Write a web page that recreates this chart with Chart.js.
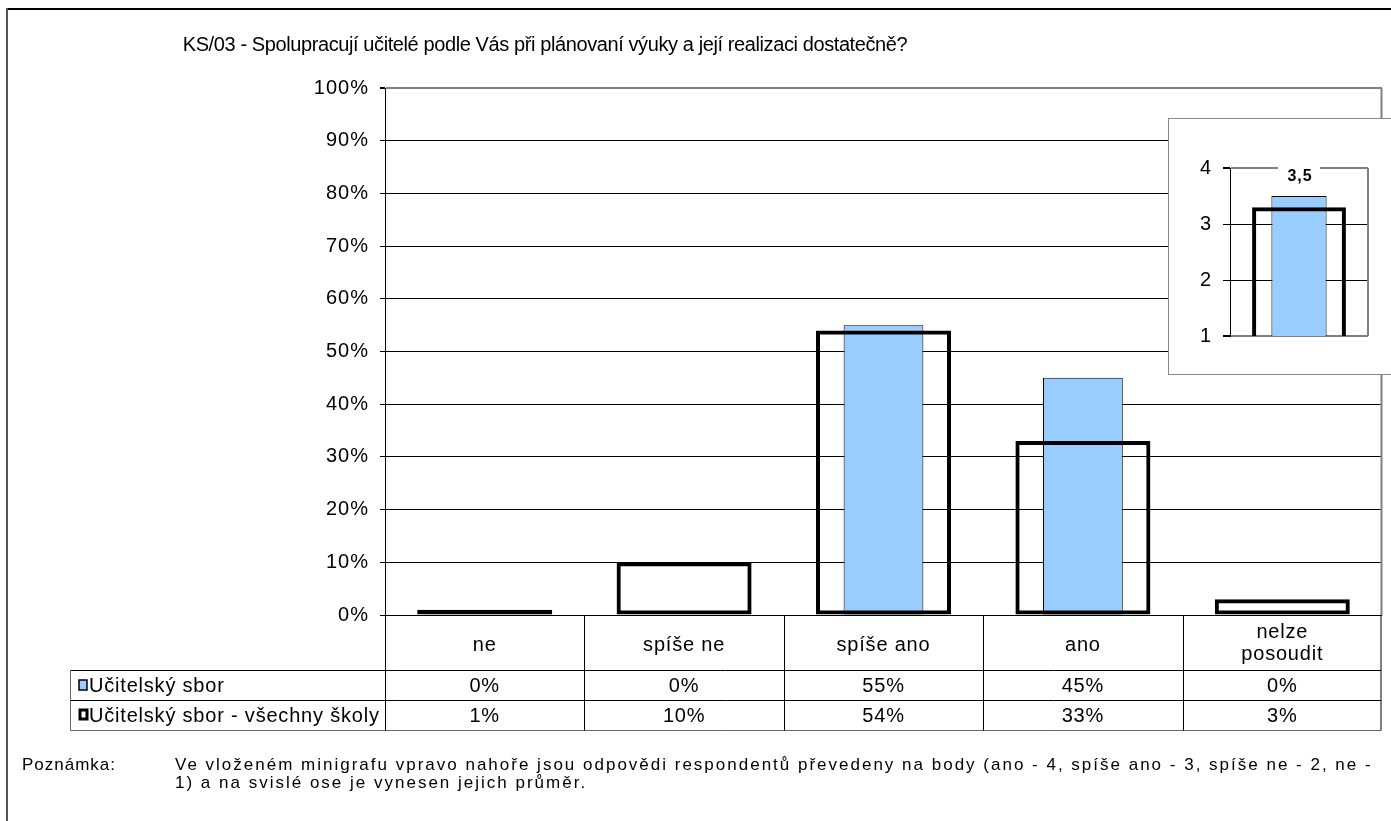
<!DOCTYPE html>
<html>
<head>
<meta charset="utf-8">
<script src="https://cdn.jsdelivr.net/npm/chart.js@4/dist/chart.umd.min.js"></script>
<style>
  body { margin: 0; background: #fff; overflow: hidden; }
  #main { position: absolute; left: 0; top: 0; }
  #miniBox { position: absolute; left: 1168px; top: 118px; width: 240px; height: 255px;
             border: 1px solid #888; background: #fff; }
  #mini { position: absolute; left: 0; top: 0; }
</style>
</head>
<body>
<canvas id="main" width="1391" height="821"></canvas>
<div id="miniBox"><canvas id="mini" width="222" height="255"></canvas></div>
<script>
const titleText = 'KS/03 - Spolupracují učitelé podle Vás při plánovaní výuky a její realizaci dostatečně?';
const categories = ['ne', 'spíše ne', 'spíše ano', 'ano', ['nelze', 'posoudit']];
const seriesNames = ['Učitelský sbor', 'Učitelský sbor - všechny školy'];
const schoolValues = [0, 0, 55, 45, 0];
const allSchoolsValues = [1, 10, 54, 33, 3];
const yTickStep = 10;

// minigraf: average points (ano 4 ... ne 1)
const miniSchool = [3.5];
const miniAllSchools = [3.3];
const miniLabel = '3,5';
const miniTicks = [1, 2, 3, 4];

const noteLabel = 'Poznámka:';
const noteLines = [
  'Ve vloženém minigrafu vpravo nahoře jsou odpovědi respondentů převedeny na body (ano - 4, spíše ano - 3, spíše ne - 2, ne -',
  '1) a na svislé ose je vynesen jejich průměr.'
];

const FONT = '"Liberation Sans", Arial, sans-serif';
const BLUE = '#99CCFF';

function line(ctx, x1, y1, x2, y2, color, w) {
  ctx.save();
  ctx.strokeStyle = color;
  ctx.lineWidth = w || 1;
  ctx.beginPath();
  ctx.moveTo(x1, y1);
  ctx.lineTo(x2, y2);
  ctx.stroke();
  ctx.restore();
}

// the original export draws text a little wider than the font
const spacing = px => ({
  id: 'spacing',
  beforeDraw(chart) { chart.ctx.letterSpacing = px + 'px'; }
});

const mainDecor = {
  id: 'mainDecor',
  afterDraw(chart) {
    const ctx = chart.ctx;
    const a = chart.chartArea;
    const n = categories.length;
    const cw = (a.right - a.left) / n;

    // outer frame
    line(ctx, 7, 9, 1391, 9, '#000', 2);
    line(ctx, 7, 8, 7, 821, '#555', 2);

    // plot right border
    line(ctx, a.right - 0.5, a.top, a.right - 0.5, a.bottom, '#808080', 2);

    // title
    ctx.save();
    ctx.letterSpacing = '-0.4px';
    ctx.fillStyle = '#000';
    ctx.font = '20px ' + FONT;
    ctx.textAlign = 'center';
    ctx.textBaseline = 'middle';
    ctx.fillText(titleText, 545, 45);
    ctx.restore();

    // data table
    const r0 = a.bottom, r1 = 670.5, r2 = 700.5, r3 = 730.5, tl = 70.5;
    const tr = a.right - 1;
    line(ctx, tl, r1, tr, r1, '#000');
    line(ctx, tl, r2, tr, r2, '#000');
    line(ctx, tl, r3, tr, r3, '#666');
    line(ctx, tl, r1, tl, r3, '#666');
    for (let i = 0; i <= n; i++) {
      const x = Math.round(a.left + i * cw) + 0.5;
      line(ctx, i === n ? tr : x, r0, i === n ? tr : x, r3, '#000');
    }

    ctx.save();
    ctx.letterSpacing = '0.8px';
    ctx.fillStyle = '#000';
    ctx.font = '20px ' + FONT;
    ctx.textAlign = 'center';
    ctx.textBaseline = 'middle';
    categories.forEach((c, i) => {
      const cx = a.left + (i + 0.5) * cw;
      if (Array.isArray(c)) {
        ctx.fillText(c[0], cx, 632);
        ctx.fillText(c[1], cx, 654);
      } else {
        ctx.fillText(c, cx, 645);
      }
      ctx.fillText(schoolValues[i] + '%', cx, 686);
      ctx.fillText(allSchoolsValues[i] + '%', cx, 716);
    });

    // legend keys in table
    ctx.textAlign = 'left';
    ctx.fillText(seriesNames[0], 89, 686);
    ctx.fillText(seriesNames[1], 89, 716);
    ctx.fillStyle = BLUE;
    ctx.fillRect(79, 680, 8, 10);
    ctx.strokeStyle = '#000';
    ctx.lineWidth = 1.5;
    ctx.strokeRect(79, 680, 8, 10);
    ctx.lineWidth = 3;
    ctx.strokeRect(80, 710, 7, 9);

    // note
    ctx.fillStyle = '#000';
    ctx.font = '17px ' + FONT;
    ctx.letterSpacing = '1px';
    ctx.fillText(noteLabel, 22, 765);
    ctx.letterSpacing = '2px';
    ctx.fillText(noteLines[0], 175, 765);
    ctx.fillText(noteLines[1], 175, 783);
    ctx.restore();
  }
};

new Chart(document.getElementById('main'), {
  type: 'bar',
  data: {
    labels: categories,
    datasets: [
      {
        label: seriesNames[1],
        data: allSchoolsValues,
        backgroundColor: 'rgba(0,0,0,0)',
        borderColor: '#000',
        borderWidth: 4,
        borderSkipped: false,
        grouped: false,
        categoryPercentage: 1,
        barPercentage: 0.677,
        order: 0
      },
      {
        label: seriesNames[0],
        data: schoolValues,
        backgroundColor: BLUE,
        borderColor: '#000',
        borderWidth: 1,
        borderSkipped: false,
        grouped: false,
        categoryPercentage: 1,
        barPercentage: 0.40,
        order: 1
      }
    ]
  },
  options: {
    responsive: false,
    animation: false,
    devicePixelRatio: 1,
    layout: { padding: { top: 88, right: 9, bottom: 206, left: 0 } },
    plugins: { legend: { display: false }, tooltip: { enabled: false } },
    scales: {
      x: { display: false },
      y: {
        min: 0,
        max: 100,
        afterFit: s => { s.width = 385; },
        ticks: {
          stepSize: yTickStep,
          padding: 11,
          color: '#000',
          font: { family: FONT, size: 20 },
          callback: v => v + '%'
        },
        grid: {
          color: c => (c.tick && c.tick.value === 100 ? '#808080' : '#000'),
          lineWidth: c => (c.tick && c.tick.value === 100 ? 2 : 1),
          tickColor: '#000',
          tickLength: 5
        },
        border: { color: '#000', width: 1 }
      }
    }
  },
  plugins: [spacing(1), mainDecor]
});

const miniDecor = {
  id: 'miniDecor',
  afterDraw(chart) {
    const ctx = chart.ctx;
    const a = chart.chartArea;
    line(ctx, a.right, a.top, a.right, a.bottom, '#808080', 2);
    const bar = chart.getDatasetMeta(1).data[0];
    ctx.save();
    ctx.fillStyle = '#fff';
    ctx.fillRect(bar.x - 21, a.top - 4, 42, 10);
    ctx.fillStyle = '#000';
    ctx.font = 'bold 16px ' + FONT;
    ctx.letterSpacing = '1px';
    ctx.textAlign = 'center';
    ctx.textBaseline = 'middle';
    ctx.fillText(miniLabel, bar.x + 1, a.top + 9);
    ctx.restore();
  }
};

new Chart(document.getElementById('mini'), {
  type: 'bar',
  data: {
    labels: [''],
    datasets: [
      {
        label: seriesNames[1],
        data: miniAllSchools,
        backgroundColor: 'rgba(0,0,0,0)',
        borderColor: '#000',
        borderWidth: 4,
        borderSkipped: false,
        grouped: false,
        categoryPercentage: 1,
        barPercentage: 0.68,
        order: 0
      },
      {
        label: seriesNames[0],
        data: miniSchool,
        backgroundColor: BLUE,
        borderColor: '#000',
        borderWidth: 1,
        borderSkipped: false,
        grouped: false,
        categoryPercentage: 1,
        barPercentage: 0.40,
        order: 1
      }
    ]
  },
  options: {
    responsive: false,
    animation: false,
    devicePixelRatio: 1,
    layout: { padding: { top: 49, right: 23, bottom: 38, left: 0 } },
    plugins: { legend: { display: false }, tooltip: { enabled: false } },
    scales: {
      x: { display: false },
      y: {
        min: miniTicks[0],
        max: miniTicks[miniTicks.length - 1],
        afterFit: s => { s.width = 61; },
        ticks: {
          stepSize: 1,
          padding: 11,
          color: '#000',
          font: { family: FONT, size: 20 }
        },
        grid: {
          color: c => (c.tick && (c.tick.value === 1 || c.tick.value === 4) ? '#808080' : '#000'),
          lineWidth: c => (c.tick && (c.tick.value === 1 || c.tick.value === 4) ? 2 : 1),
          tickColor: '#000',
          tickLength: 7
        },
        border: { color: '#000', width: 1 }
      }
    }
  },
  plugins: [spacing(1), miniDecor]
});
</script>
</body>
</html>
